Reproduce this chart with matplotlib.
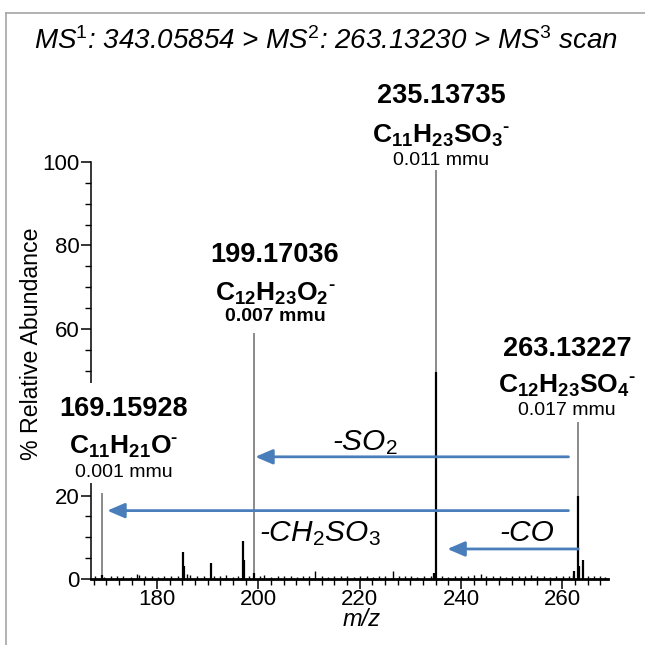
import matplotlib
matplotlib.use('Agg')
import matplotlib.pyplot as plt
from matplotlib.ticker import MultipleLocator
from matplotlib.lines import Line2D
from matplotlib.patches import Rectangle

plt.rcParams['font.family'] = ['Liberation Sans', 'DejaVu Sans']
plt.rcParams['mathtext.fontset'] = 'custom'
plt.rcParams['mathtext.rm'] = 'Liberation Sans'
plt.rcParams['mathtext.it'] = 'Liberation Sans:italic'
plt.rcParams['mathtext.bf'] = 'Liberation Sans:bold'

# --- data ---
# main spectrum sticks (m/z, % relative abundance)
peak_mz = [169.16, 185.2, 185.35, 190.6, 196.95, 197.1, 199.17, 234.6, 235.14, 262.3, 263.13, 263.35, 264.13]
peak_int = [1.0, 6.5, 3.0, 3.8, 9.0, 4.5, 1.5, 1.5, 49.6, 2.0, 20.0, 3.0, 4.5]

# baseline noise
noise_mz = [167.8, 169.6, 170.9, 172.2, 173.4, 174.8, 176.0, 176.4, 177.7, 179.0,
            180.3, 181.5, 182.8, 184.1, 186.0, 186.6, 187.9, 189.2, 191.3, 192.4,
            193.7, 195.0, 196.1, 198.1, 200.4, 201.2, 202.6, 203.9, 205.1, 206.4,
            207.7, 208.8, 210.1, 211.2, 212.5, 213.8, 215.0, 216.3, 217.6, 218.9,
            220.1, 221.4, 222.6, 223.9, 225.1, 226.5, 227.7, 228.9, 230.2, 231.4,
            232.7, 234.0, 236.2, 237.5, 238.8, 240.0, 241.3, 242.5, 243.9, 245.0,
            246.3, 247.6, 248.8, 250.1, 251.4, 252.6, 253.9, 255.0, 256.3, 257.6,
            258.8, 260.1, 261.3, 262.0, 265.0, 266.2, 267.4, 268.5]
noise_int = [0.6, 0.5, 0.8, 0.6, 0.7, 0.5, 1.3, 0.9, 0.6, 0.7,
             0.5, 0.8, 0.6, 0.7, 1.2, 0.9, 0.6, 0.8, 0.7, 0.6,
             0.9, 0.5, 0.7, 0.8, 0.6, 0.9, 0.5, 0.7, 0.6, 0.8,
             0.5, 0.7, 0.6, 1.8, 0.7, 0.5, 0.8, 0.6, 0.7, 0.5,
             0.6, 0.8, 0.5, 0.7, 0.6, 2.0, 0.8, 0.6, 0.7, 0.5,
             0.8, 0.6, 0.7, 0.5, 0.8, 0.6, 0.7, 0.9, 1.2, 0.8,
             0.6, 0.7, 0.5, 0.8, 0.6, 0.7, 1.0, 0.6, 0.7, 0.5,
             0.8, 0.6, 0.7, 0.9, 0.8, 0.6, 0.7, 0.5]

# y ticks (the 40 label sits under the 169 label block in the original)
y_ticks = [0, 20, 40, 60, 80, 100]
y_tick_labels = ['0', '20', '', '60', '80', '100']

# annotated ions: leader line heights and labels
ion_mz = [169.15928, 199.17036, 235.13735, 263.13227]
ion_top = [20.7, 58.9, 98.1, 37.7]
ion_label = ['169.15928', '199.17036', '235.13735', '263.13227']
ion_formula = [r'$\mathbf{C_{11}H_{21}O{}^{‐}}$', r'$\mathbf{C_{12}H_{23}O_{2}{}^{‐}}$',
               r'$\mathbf{C_{11}H_{23}SO_{3}{}^{‐}}$', r'$\mathbf{C_{12}H_{23}SO_{4}{}^{‐}}$']
ion_error = ['0.001 mmu', '0.007 mmu', '0.011 mmu', '0.017 mmu']
ion_error_bold = [False, True, False, False]

# neutral losses (from, to, level, label)
loss_from = [261.2, 261.2, 263.13]
loss_to = [199.4, 170.2, 237.3]
loss_y = [29.3, 16.4, 7.2]
loss_label = [r'-SO$_{\mathit{2}}$', r'-CH$_{\mathit{2}}$SO$_{\mathit{3}}$', '-CO']

# --- styling / placement ---
label_dx = [22, 21, 5, -11]           # pixels
label_dy = [(77, 39, 16), (71, 33, 12), (67, 27, 5), (66, 29, 7)]
loss_text_xy = [(221.1, 31.0), (212.2, 9.1), (253.0, 9.1)]
blue = '#4a7ebb'

fig = plt.figure(figsize=(6.45, 6.45), dpi=100)
W = 645.0
ax = fig.add_axes([91 / W, 1 - 579 / W, (608 - 91) / W, (579 - 162) / W])

ax.vlines(ion_mz, 0, ion_top, color='#6b6b6b', lw=1.1, zorder=2)
ax.vlines(noise_mz, 0, noise_int, color='black', lw=1.0, zorder=3)
ax.vlines(peak_mz, 0, peak_int, color='black', lw=1.6, zorder=3)

ax.set_xlim(167, 269)
ax.set_ylim(0, 100)
for s in ['top', 'right']:
    ax.spines[s].set_visible(False)
ax.spines['left'].set_linewidth(1.1)
ax.spines['bottom'].set_linewidth(2.0)

ax.xaxis.set_major_locator(MultipleLocator(20))
ax.xaxis.set_minor_locator(MultipleLocator(2.5))
ax.set_yticks(y_ticks, y_tick_labels)
ax.yaxis.set_minor_locator(MultipleLocator(5))
ax.tick_params(which='major', direction='out', length=7, width=1.1, labelsize=16)
ax.tick_params(which='minor', direction='out', length=4, width=1.0)
ax.tick_params(axis='x', pad=0)
ax.tick_params(axis='y', pad=1)

# white patch where the left label block sits over the y axis
ax.add_patch(Rectangle((55 / W, 1 - 483 / W), 135 / W, 100 / W, transform=fig.transFigure,
                       fc='white', ec='none', clip_on=False, zorder=5))

for i in range(len(ion_mz)):
    d1, d2, d3 = label_dy[i]
    ax.annotate(ion_label[i], xy=(ion_mz[i], ion_top[i]), xytext=(label_dx[i], d1),
                textcoords='offset pixels', ha='center', va='baseline',
                fontsize=19.5, fontweight='bold', zorder=6)
    ax.annotate(ion_formula[i], xy=(ion_mz[i], ion_top[i]), xytext=(label_dx[i], d2),
                textcoords='offset pixels', ha='center', va='baseline',
                fontsize=19, zorder=6)
    ax.annotate(ion_error[i], xy=(ion_mz[i], ion_top[i]), xytext=(label_dx[i], d3),
                textcoords='offset pixels', ha='center', va='baseline',
                fontsize=14, fontweight='bold' if ion_error_bold[i] else 'normal',
                zorder=6)

for i in range(len(loss_from)):
    ax.annotate('', xy=(loss_to[i], loss_y[i]), xytext=(loss_from[i], loss_y[i]),
                arrowprops=dict(arrowstyle='-|>,head_length=0.7,head_width=0.3',
                                color=blue, lw=2.0, shrinkA=0, shrinkB=0,
                                mutation_scale=15), zorder=4)
    ax.text(loss_text_xy[i][0], loss_text_xy[i][1], loss_label[i], style='italic',
            fontsize=21.5, ha='center', va='baseline', zorder=5)

fig.text(0.505, 1 - 41 / W,
         r'MS$^{\mathit{1}}$: 343.05854 > MS$^{\mathit{2}}$: 263.13230 > MS$^{\mathit{3}}$ scan',
         style='italic', fontsize=20, ha='center', va='center')
fig.text(362 / W, 1 - 620 / W, 'm/z', style='italic', fontsize=17, ha='center', va='center')
fig.text(32 / W, 1 - 344 / W, '% Relative Abundance', rotation=90, fontsize=16.7,
         ha='center', va='center')

# outer frame (left and top edges only)
fig.add_artist(Line2D([6 / W, 6 / W], [0, 1 - 13 / W], transform=fig.transFigure,
                      color='#a6a6a6', lw=1.2))
fig.add_artist(Line2D([6 / W, 1], [1 - 13 / W, 1 - 13 / W], transform=fig.transFigure,
                      color='#a6a6a6', lw=1.2))

fig.savefig('out.png', dpi=100)
